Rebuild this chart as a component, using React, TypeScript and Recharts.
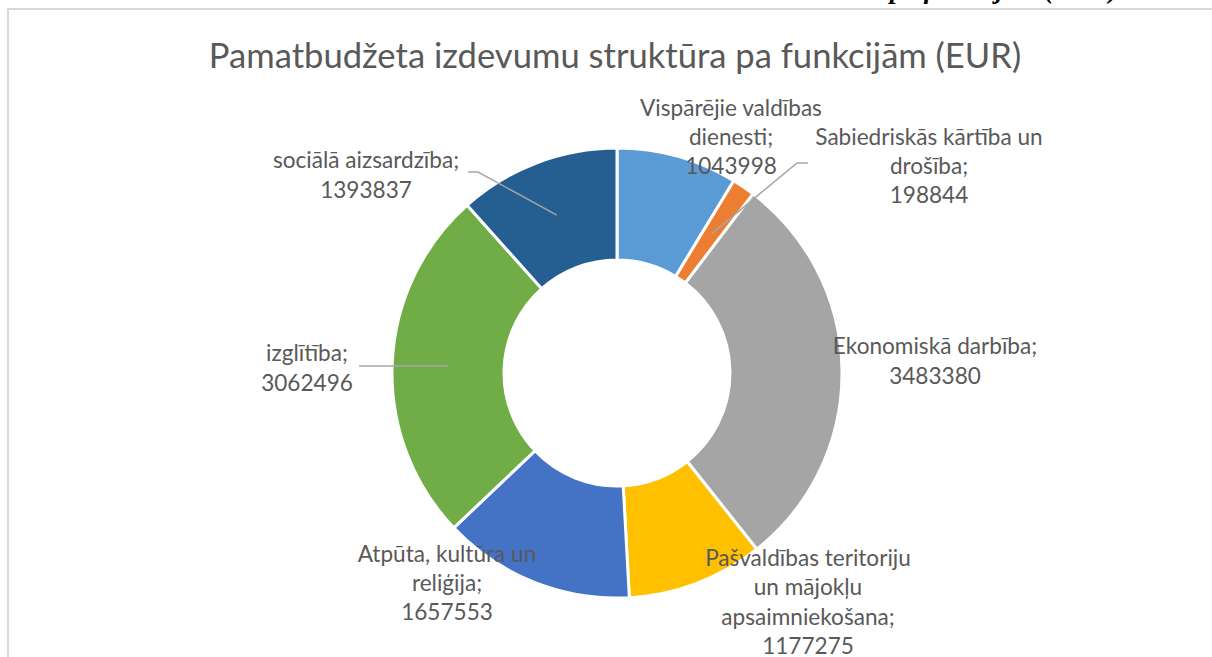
import React from "react";
import { PieChart, Pie, Cell } from "recharts";

const CATEGORIES = [
  "Vispārējie valdības dienesti",
  "Sabiedriskās kārtība un drošība",
  "Ekonomiskā darbība",
  "Pašvaldības teritoriju un mājokļu apsaimniekošana",
  "Atpūta, kultūra un reliģija",
  "izglītība",
  "sociālā aizsardzība",
];
const VALUES = [1043998, 198844, 3483380, 1177275, 1657553, 3062496, 1393837];
const COLORS = ["#5B9BD5", "#ED7D31", "#A5A5A5", "#FFC000", "#4472C4", "#70AD47", "#255E91"];
const LABEL_LINES = [
  ["Vispārējie valdības", "dienesti;", "1043998"],
  ["Sabiedriskās kārtība un", "drošība;", "198844"],
  ["Ekonomiskā darbība;", "3483380"],
  ["Pašvaldības teritoriju", "un mājokļu", "apsaimniekošana;", "1177275"],
  ["Atpūta, kultūra un", "reliģija;", "1657553"],
  ["izglītība;", "3062496"],
  ["sociālā aizsardzība;", "1393837"],
];
// label block centre offsets from pie centre
const LABEL_OFFSETS = [
  [114, -237],
  [312, -208],
  [318, -13],
  [191, 228],
  [-170, 209],
  [-310, -6],
  [-251, -199],
];
// leader line start (relative to label centre) and elbow x; null = none
const LEADERS: (null | { sx: number; sy: number; ex: number })[] = [
  null,
  { sx: -121, sy: -2, ex: -132 },
  null,
  null,
  null,
  { sx: 52, sy: -1, ex: 52 },
  { sx: 102, sy: -2, ex: 112 },
];

const data = CATEGORIES.map((name, i) => ({ name, value: VALUES[i] }));

const FONT = "Lato, 'Open Sans', sans-serif";
const RAD = Math.PI / 180;
const LINE_H = 29.3;

const renderLabel = (props: any) => {
  const { cx, cy, midAngle, innerRadius, outerRadius, index } = props;
  const lines = LABEL_LINES[index];
  const [ox, oy] = LABEL_OFFSETS[index];
  const lx = cx + ox;
  const ly = cy + oy;
  const top = ly - ((lines.length - 1) * LINE_H) / 2;
  const leader = LEADERS[index];
  let path = null;
  if (leader) {
    const r = (innerRadius + outerRadius) / 2;
    const px = cx + Math.cos(-midAngle * RAD) * r;
    const py = cy + Math.sin(-midAngle * RAD) * r;
    const sx = lx + leader.sx;
    const sy = ly + leader.sy;
    const ex = lx + leader.ex;
    path = (
      <path
        d={`M${sx},${sy} L${ex},${sy} L${px},${py}`}
        stroke="#a6a6a6"
        strokeWidth={1.5}
        fill="none"
      />
    );
  }
  return (
    <g>
      <text
        x={lx}
        y={top}
        textAnchor="middle"
        dominantBaseline="central"
        fill="#595959"
        fontSize={22.6}
        fontFamily={FONT}
      >
        {lines.map((t, i) => (
          <tspan key={i} x={lx} y={top + i * LINE_H}>
            {t}
          </tspan>
        ))}
      </text>
      {path}
    </g>
  );
};

export default function App() {
  return (
    <div
      style={{
        position: "absolute",
        left: 0,
        top: 0,
        width: 1212,
        height: 657,
        overflow: "hidden",
        background: "#ffffff",
      }}
    >
      <div
        style={{
          position: "absolute",
          right: 94,
          top: -26,
          fontFamily: "'Liberation Serif', 'DejaVu Serif', serif",
          fontWeight: "bold",
          fontStyle: "italic",
          fontSize: 27,
          lineHeight: "31px",
          whiteSpace: "nowrap",
          color: "#000",
        }}
      >
        izdevumu struktūra pa funkcijām (EUR)
      </div>
      <div
        style={{
          position: "absolute",
          left: 7,
          top: 8,
          width: 1300,
          height: 800,
          border: "2px solid #d9d9d9",
          background: "#ffffff",
          boxSizing: "border-box",
        }}
      />
      <div
        style={{
          position: "absolute",
          left: 208,
          top: 34,
          width: 814,
          textAlign: "center",
          fontFamily: FONT,
          fontSize: 34.6,
          color: "#595959",
          whiteSpace: "nowrap",
        }}
      >
        Pamatbudžeta izdevumu struktūra pa funkcijām (EUR)
      </div>
      <div style={{ position: "absolute", left: 0, top: 0 }}>
        <PieChart width={1212} height={657} margin={{ top: 0, right: 0, bottom: 0, left: 0 }}>
          <Pie
            data={data}
            dataKey="value"
            nameKey="name"
            cx={617}
            cy={373}
            innerRadius={113}
            outerRadius={225}
            startAngle={90}
            endAngle={-270}
            stroke="#ffffff"
            strokeWidth={3}
            isAnimationActive={false}
            label={renderLabel}
            labelLine={false}
          >
            {data.map((d, i) => (
              <Cell key={d.name} fill={COLORS[i]} />
            ))}
          </Pie>
        </PieChart>
      </div>
    </div>
  );
}
